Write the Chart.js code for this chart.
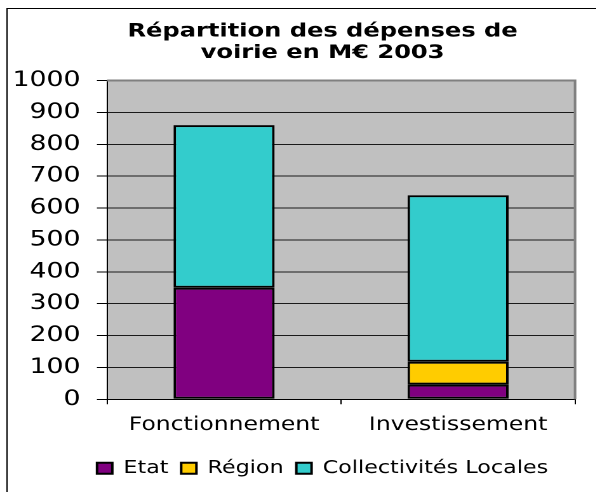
<!DOCTYPE html>
<html>
<head>
<meta charset="utf-8">
<script src="https://cdn.jsdelivr.net/npm/chart.js@4/dist/chart.umd.min.js"></script>
<style>
  html, body { margin: 0; padding: 0; background: #fff; overflow: hidden; }
  /* the reference picture is stretched sideways, so the chart is too */
  #wrap {
    position: absolute; left: 0; top: 0;
    width: 500px; height: 492px;
    transform: scaleX(1.27); transform-origin: 0 0;
  }
</style>
</head>
<body>
<div id="wrap"><canvas id="barChart"></canvas></div>
<script>
// --- données ---
const categories = ['Fonctionnement', 'Investissement'];
const etat = [350, 46];
const region = [null, 72];
const collectivites = [510, 522];
const titleLines = ['Répartition des dépenses de', 'voirie en M€ 2003'];

const FONT = "'DejaVu Sans', Verdana, sans-serif";

// fond blanc + cadre du graphique (bords gauche et haut visibles)
const frame = {
    id: 'frame',
    beforeDraw(chart) {
        const c = chart.ctx;
        c.save();
        c.fillStyle = '#fff';
        c.fillRect(0, 0, chart.width, chart.height);
        c.strokeStyle = '#000';
        c.lineWidth = 1;
        c.beginPath();
        c.moveTo(5.5, chart.height);
        c.lineTo(5.5, 8.5);
        c.lineTo(chart.width, 8.5);
        c.stroke();
        // zone de traçage grise
        const a = chart.chartArea;
        c.fillStyle = '#C0C0C0';
        c.fillRect(a.left, a.top, a.right - a.left, a.bottom - a.top);
        c.restore();
    },
    afterDatasetsDraw(chart) {
        const a = chart.chartArea;
        const c = chart.ctx;
        c.save();
        c.strokeStyle = '#808080';
        c.lineWidth = 2;
        c.beginPath();
        c.moveTo(a.left, a.top);
        c.lineTo(a.right, a.top);
        c.lineTo(a.right, a.bottom);
        c.stroke();
        c.restore();
    }
};

const ctx = document.getElementById('barChart').getContext('2d');
const myBarChart = new Chart(ctx, {
    type: 'bar',
    data: {
        labels: categories,
        datasets: [
            { label: 'Etat', data: etat, backgroundColor: '#800080' },
            { label: 'Région', data: region, backgroundColor: '#FFCC00' },
            { label: 'Collectivités Locales', data: collectivites, backgroundColor: '#33CCCC' }
        ].map(d => Object.assign(d, {
            borderColor: '#000',
            borderWidth: 2,
            borderSkipped: false,
            barPercentage: 0.432,
            categoryPercentage: 1
        }))
    },
    options: {
        responsive: true,
        maintainAspectRatio: false,
        devicePixelRatio: 2,
        animation: false,
        layout: { padding: { left: 10, right: 2, top: 0, bottom: 5 } },
        scales: {
            x: {
                stacked: true,
                grid: { display: true, drawOnChartArea: false, tickLength: 5, tickColor: '#000', offset: true },
                border: { color: '#000', width: 1 },
                ticks: { color: '#000', font: { family: FONT, size: 18.5 }, padding: 10 },
                afterFit(scale) { scale.height += 3; }
            },
            y: {
                stacked: true,
                min: 0,
                max: 1000,
                ticks: {
                    stepSize: 100,
                    color: '#000',
                    font: { family: FONT, size: 21 },
                    padding: 13,
                    callback: v => String(v) // pas de séparateur de milliers
                },
                grid: {
                    color: c => (c.tick && c.tick.value === 1000) ? '#808080' : '#1a1a1a',
                    lineWidth: 1,
                    tickLength: 8,
                    tickColor: '#000'
                },
                border: { color: '#000', width: 1 },
                afterFit(scale) { scale.width = 74.3; }
            },
            // axe fantôme à droite : laisse la place de la partie coupée du cadre
            y2: {
                position: 'right',
                display: true,
                grid: { display: false },
                border: { display: false },
                ticks: { display: false },
                afterFit(scale) { scale.width = 45.2; }
            }
        },
        plugins: {
            title: {
                display: true,
                text: titleLines,
                color: '#000',
                font: { family: FONT, size: 19, weight: 'bold', lineHeight: 1.12 },
                padding: { top: 21, bottom: 17 }
            },
            legend: {
                position: 'bottom',
                labels: {
                    color: '#000',
                    font: { family: FONT, size: 17.5 },
                    boxWidth: 12,
                    boxHeight: 11,
                    padding: 10
                }
            },
            tooltip: { enabled: false }
        }
    },
    plugins: [frame]
});
</script>
</body>
</html>
